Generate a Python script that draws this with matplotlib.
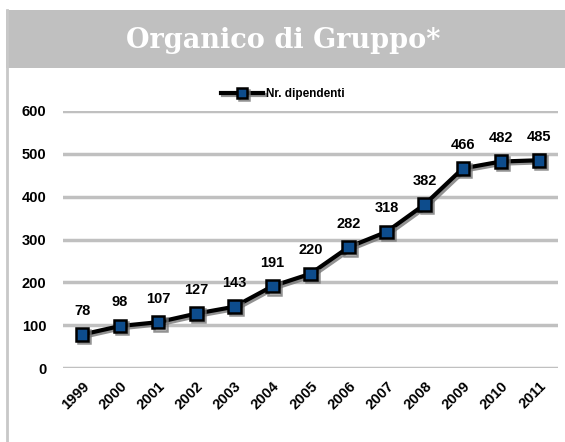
import matplotlib
matplotlib.use("Agg")
import matplotlib.pyplot as plt
import matplotlib.patheffects as pe
from matplotlib.patches import Rectangle
from matplotlib.lines import Line2D

years = ["1999", "2000", "2001", "2002", "2003", "2004", "2005", "2006",
         "2007", "2008", "2009", "2010", "2011"]
dipendenti = [78, 98, 107, 127, 143, 191, 220, 282, 318, 382, 466, 482, 485]
yticks = [0, 100, 200, 300, 400, 500, 600]
ytick_labels = ["0", "100", "200", "300", "400", "500", "600"]
title = "Organico di Gruppo*"
series_name = "Nr. dipendenti"

W, H = 565, 442
fig = plt.figure(figsize=(W / 100, H / 100), dpi=100)
fig.patch.set_facecolor("white")

# header band and left border
fig.patches.append(Rectangle((6 / W, (H - 68) / H), (W - 6) / W, 58 / H,
                             transform=fig.transFigure, facecolor="#c0c0c0",
                             edgecolor="none", zorder=0))
fig.lines.append(Line2D([6.5 / W, 6.5 / W], [0, (H - 10) / H],
                        transform=fig.transFigure, color="#c8c8c8", lw=2))
fig.text(283 / W, (H - 40) / H, title, ha="center", va="center",
         color="white", fontsize=19.5, fontweight="bold", family="DejaVu Serif")

ax = fig.add_axes([63 / W, (H - 368) / H, (558 - 63) / W, (368 - 111) / H])
x = list(range(len(years)))
line, = ax.plot(x, dipendenti, color="black", lw=3, marker="s", ms=9,
                markerfacecolor="#0d4c8c", markeredgecolor="black",
                markeredgewidth=1.8, zorder=3, label=series_name,
                path_effects=[pe.SimpleLineShadow(offset=(1.5, -1.5),
                                                  shadow_color="#777777",
                                                  alpha=0.8),
                              pe.Normal()])
for xi, v in zip(x, dipendenti):
    ax.annotate(str(v), (xi, v), xytext=(0, 12), textcoords="offset points",
                ha="center", va="bottom", fontsize=10.5, fontweight="bold",
                family="Liberation Sans")

ax.set_xlim(-0.5, len(years) - 0.5)
ax.set_ylim(0, 600)
ax.set_yticks(yticks)
ax.set_yticklabels(ytick_labels, fontsize=10.5, fontweight="bold",
                   family="Liberation Sans")
ax.set_xticks(x)
ax.set_xticklabels(years, rotation=45, ha="right", rotation_mode="anchor",
                   fontsize=10.5, fontweight="bold", family="Liberation Sans")
ax.tick_params(length=0, pad=8)
ax.tick_params(axis="y", pad=12)
ax.grid(axis="y", color="#c0c0c0", lw=2.5)
ax.set_axisbelow(True)
for s in ax.spines.values():
    s.set_visible(False)
ax.set_facecolor("none")

leg = fig.legend(handles=[line], loc="center", bbox_to_anchor=(283 / W, (H - 94) / H),
                 frameon=False, prop={"family": "Liberation Sans", "weight": "bold",
                                      "size": 8.5},
                 handlelength=3.5, handletextpad=0.3, markerscale=0.75)

fig.savefig("out.png", dpi=100)
